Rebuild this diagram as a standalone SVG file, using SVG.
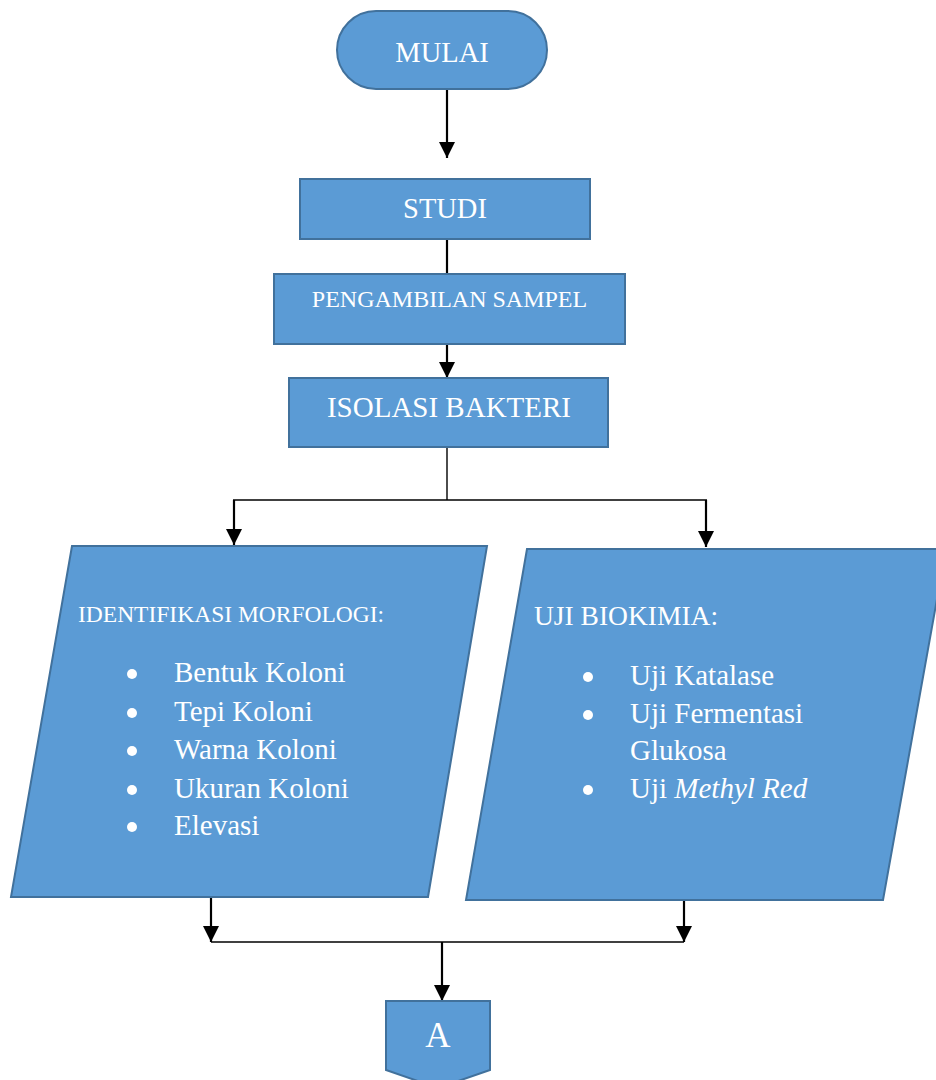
<svg xmlns="http://www.w3.org/2000/svg" width="936" height="1080" viewBox="0 0 936 1080">
<defs>
<marker id="arr" markerUnits="userSpaceOnUse" markerWidth="16" markerHeight="16" refX="16" refY="8" orient="auto">
<path d="M0,0 L16,8 L0,16 Z" fill="#000"/>
</marker>
<style>
.shape{fill:#5B9BD5;stroke:#41719C;stroke-width:2}
.t{font-family:"Liberation Serif","Times New Roman",serif;fill:#fff}
.c{text-anchor:middle}
.con{stroke:#000;fill:none}
.a{stroke-width:2.2;marker-end:url(#arr)}
.plain{stroke-width:2.2}
.thin{stroke-width:1.4}
</style>
</defs>
<rect width="936" height="1080" fill="#fff"/>
<g id="connectors">
<line class="con a" x1="447" y1="89" x2="447" y2="158"/>
<line class="con plain" x1="447" y1="239" x2="447" y2="274"/>
<line class="con a" x1="447" y1="344" x2="447" y2="378"/>
<polyline class="con thin" points="447,447 447,500"/>
<line class="con thin" x1="233" y1="500" x2="707" y2="500"/>
<line class="con a" x1="234" y1="500" x2="234" y2="545"/>
<line class="con a" x1="706" y1="500" x2="706" y2="547"/>
<line class="con a" x1="211" y1="898" x2="211" y2="942"/>
<line class="con a" x1="684" y1="900" x2="684" y2="942"/>
<line class="con thin" x1="211" y1="942" x2="684" y2="942"/>
<line class="con a" x1="442" y1="942" x2="442" y2="1001"/>
</g>
<g id="mulai">
<rect class="shape" x="337" y="11" width="210" height="78" rx="39"/>
<text class="t c" x="442" y="62" font-size="28.5">MULAI</text>
</g>
<g id="studi">
<rect class="shape" x="300" y="179" width="290" height="60"/>
<text class="t c" x="445" y="218" font-size="28.5">STUDI</text>
</g>
<g id="pengambilan">
<rect class="shape" x="274" y="274" width="351" height="70"/>
<text class="t c" x="449.5" y="307" font-size="24">PENGAMBILAN SAMPEL</text>
</g>
<g id="isolasi">
<rect class="shape" x="289" y="378" width="319" height="69"/>
<text class="t c" x="449" y="417" font-size="29">ISOLASI BAKTERI</text>
</g>
<g id="morfologi">
<polygon class="shape" points="72,546 487,546 428,897 11,897"/>
<text class="t" x="78" y="622" font-size="23.5">IDENTIFIKASI MORFOLOGI:</text>
<g fill="#fff">
<circle cx="132" cy="674" r="5"/>
<circle cx="132" cy="713" r="5"/>
<circle cx="132" cy="751" r="5"/>
<circle cx="132" cy="790" r="5"/>
<circle cx="132" cy="827" r="5"/>
</g>
<text class="t" font-size="29">
<tspan x="174" y="682">Bentuk Koloni</tspan>
<tspan x="174" y="721">Tepi Koloni</tspan>
<tspan x="174" y="759">Warna Koloni</tspan>
<tspan x="174" y="798">Ukuran Koloni</tspan>
<tspan x="174" y="835">Elevasi</tspan>
</text>
</g>
<g id="biokimia">
<polygon class="shape" points="527,549 946,549 883,900 466,900"/>
<text class="t" x="534" y="625" font-size="27.5">UJI BIOKIMIA:</text>
<g fill="#fff">
<circle cx="588" cy="677" r="5"/>
<circle cx="588" cy="715" r="5"/>
<circle cx="588" cy="790" r="5"/>
</g>
<text class="t" font-size="29">
<tspan x="630" y="685">Uji Katalase</tspan>
<tspan x="630" y="723">Uji Fermentasi</tspan>
<tspan x="630" y="760">Glukosa</tspan>
<tspan x="630" y="798">Uji <tspan font-style="italic">Methyl Red</tspan></tspan>
</text>
</g>
<g id="connector-a">
<polygon class="shape" points="386,1001 490,1001 490,1070 438,1088 386,1070"/>
<text class="t c" x="438" y="1047" font-size="35">A</text>
</g>
</svg>
